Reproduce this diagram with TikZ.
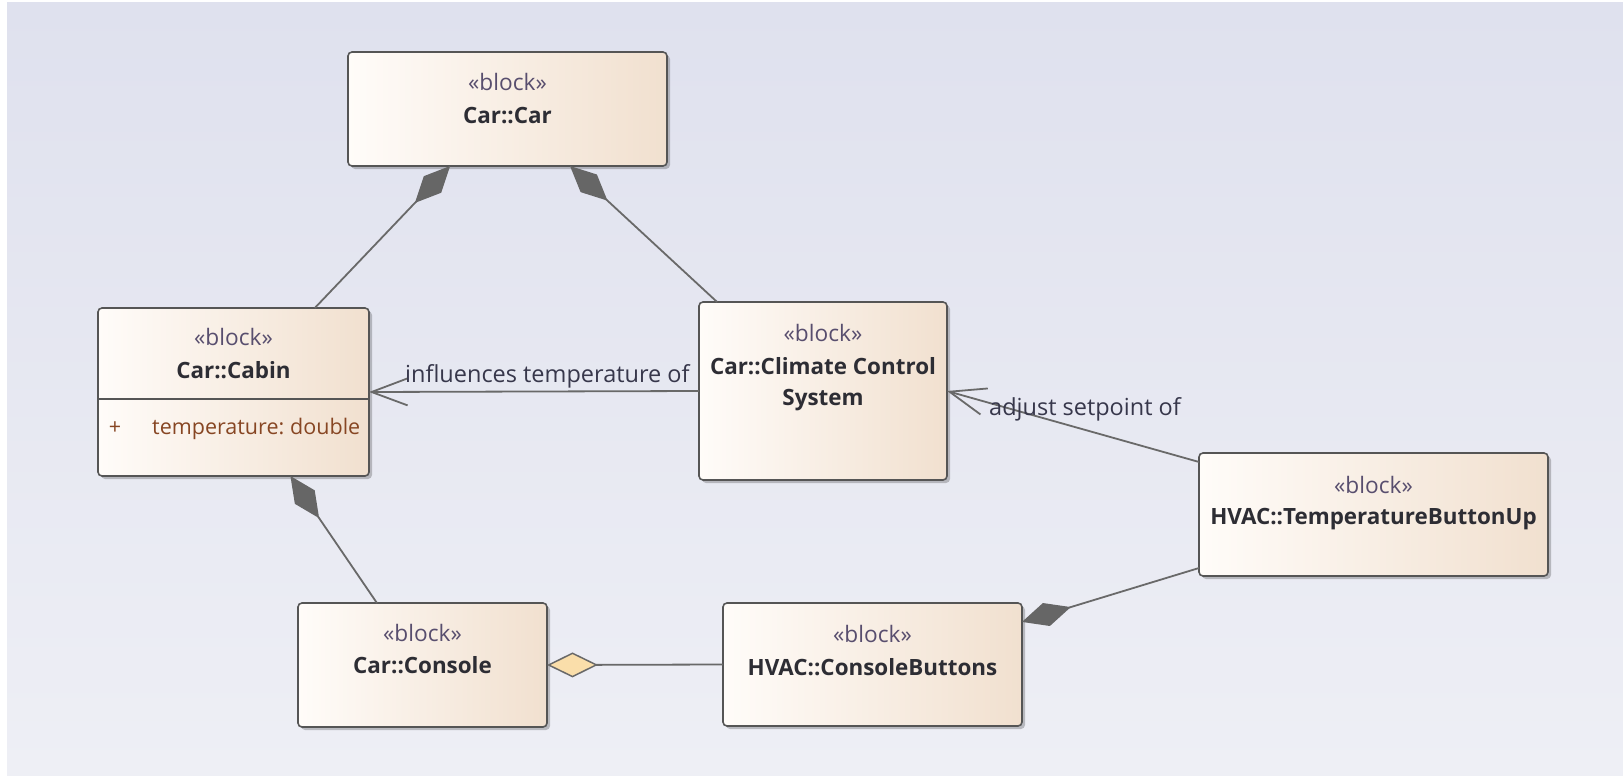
\documentclass[tikz,border=0pt]{standalone}
\usepackage{fontspec}
\setmainfont{Open Sans}
\usetikzlibrary{arrows.meta,shadows,calc}
\definecolor{bgtop}{RGB}{223,225,238}
\definecolor{bgbot}{RGB}{238,239,245}
\definecolor{boxL}{RGB}{255,252,249}
\definecolor{boxR}{RGB}{241,224,207}
\definecolor{boxdraw}{RGB}{85,85,85}
\definecolor{stereo}{RGB}{88,78,110}
\definecolor{namec}{RGB}{45,45,52}
\definecolor{attrc}{RGB}{135,70,35}
\definecolor{connc}{RGB}{105,105,105}
\definecolor{dgray}{RGB}{102,102,102}
\definecolor{hollow}{RGB}{250,222,170}
\definecolor{labc}{RGB}{55,55,75}
\tikzset{
  blockbox/.style={draw=boxdraw, line width=1.6pt, rounded corners=4pt,
    left color=boxL, right color=boxR, inner sep=0pt, outer sep=0pt,
    anchor=north west,
    drop shadow={shadow xshift=3pt, shadow yshift=-3pt, fill=black, opacity=0.22}},
  stereotxt/.style={text=stereo, font=\fontsize{22.7}{27}\selectfont, anchor=base, inner sep=0pt},
  nametxt/.style={text=namec, font=\fontsize{22.4}{27}\selectfont\bfseries, anchor=base, inner sep=0pt},
  attrtxt/.style={text=attrc, font=\fontsize{21.5}{26}\selectfont, inner sep=0pt},
  labtxt/.style={text=labc, font=\fontsize{23.5}{28}\selectfont, anchor=base west, inner sep=0pt},
  conn/.style={draw=connc, line width=1.8pt},
  compo/.style={{Diamond[length=51pt,width=24pt,fill=dgray,color=dgray]}-},
  aggr/.style={{Diamond[length=51pt,width=25pt,fill=hollow,color=connc,line width=1.5pt]}-},
  openarr/.style={-{Straight Barb[length=36pt,width=27pt,line width=1.8pt]}}
}
\begin{document}
\begin{tikzpicture}[x=1pt,y=-1pt]
\useasboundingbox (0,0) rectangle (1623,776);
\fill[white] (0,0) rectangle (1623,776);
\shade[top color=bgtop, bottom color=bgbot] (7,3) rectangle (1623,775);

% blocks
\node[blockbox, minimum width=319pt, minimum height=114pt] (car) at (348,52) {};
\node[blockbox, minimum width=271pt, minimum height=168pt] (cabin) at (98,308) {};
\node[blockbox, minimum width=248pt, minimum height=178pt] (climate) at (699,302) {};
\node[blockbox, minimum width=349pt, minimum height=123pt] (tbu) at (1199,453) {};
\node[blockbox, minimum width=249pt, minimum height=124pt] (console) at (298,603) {};
\node[blockbox, minimum width=299pt, minimum height=123pt] (cbtn) at (723,603) {};

% texts
\node[stereotxt] (car-st) at ($(car.north)+(0,38)$) {«block»};
\node[nametxt] (car-nm) at ($(car.north)+(0,71)$) {Car::Car};

\node[stereotxt] (cabin-st) at ($(cabin.north)+(0,37)$) {«block»};
\node[nametxt] (cabin-nm) at ($(cabin.north)+(0,70)$) {Car::Cabin};
\draw[draw=boxdraw, line width=1.6pt] ($(cabin.north west)+(0,91)$) -- ($(cabin.north east)+(0,91)$);
\node[attrtxt, anchor=base] (cabin-plus) at ($(cabin.north west)+(17,126)$) {+};
\node[attrtxt, anchor=base west] (cabin-attr) at ($(cabin.north west)+(54,126)$) {temperature:\hspace{-1.5pt} double};

\node[stereotxt] (climate-st) at ($(climate.north)+(0,39)$) {«block»};
\node[nametxt] (climate-nm1) at ($(climate.north)+(0,72)$) {Car::Climate Control};
\node[nametxt] (climate-nm2) at ($(climate.north)+(0,103)$) {System};

\node[stereotxt] (tbu-st) at ($(tbu.north)+(0,40)$) {«block»};
\node[nametxt] (tbu-nm) at ($(tbu.north)+(0,71)$) {HVAC::TemperatureButtonUp};

\node[stereotxt] (console-st) at ($(console.north)+(0,38)$) {«block»};
\node[nametxt] (console-nm) at ($(console.north)+(0,70)$) {Car::Console};

\node[stereotxt] (cbtn-st) at ($(cbtn.north)+(0,39)$) {«block»};
\node[nametxt] (cbtn-nm) at ($(cbtn.north)+(0,72)$) {HVAC::ConsoleButtons};

% connector attachment points
\coordinate (carA) at ($(car.south west)!0.32!(car.south east)$);
\coordinate (carB) at ($(car.south west)!0.696!(car.south east)$);
\coordinate (cabinT) at ($(cabin.north west)!0.80!(cabin.north east)$);
\coordinate (cabinB) at ($(cabin.south west)!0.71!(cabin.south east)$);
\coordinate (climT) at ($(climate.north west)!0.073!(climate.north east)$);
\coordinate (consT) at ($(console.north west)!0.317!(console.north east)$);
\coordinate (tbuU) at ($(tbu.north west)!0.073!(tbu.south west)$);
\coordinate (tbuL) at ($(tbu.north west)!0.935!(tbu.south west)$);
\coordinate (cbtnR) at ($(cbtn.north east)!0.154!(cbtn.south east)$);

% connectors
\draw[conn, compo] (carA) -- (cabinT);
\draw[conn, compo] (carB) -- (climT);
\draw[conn, compo] (cabinB) -- (consT);
\draw[conn, compo] (cbtnR) -- (tbuL);
\draw[conn, aggr] (console.east) -- (cbtn.west);
\draw[conn, openarr] (climate.west) -- (cabin.east);
\draw[conn, openarr] (tbuU) -- (climate.east);

% labels
\node[labtxt] (lab-infl) at (405,382) {influences temperature of};
\node[labtxt] (lab-adj) at (989,415) {adjust setpoint of};
\end{tikzpicture}
\end{document}
